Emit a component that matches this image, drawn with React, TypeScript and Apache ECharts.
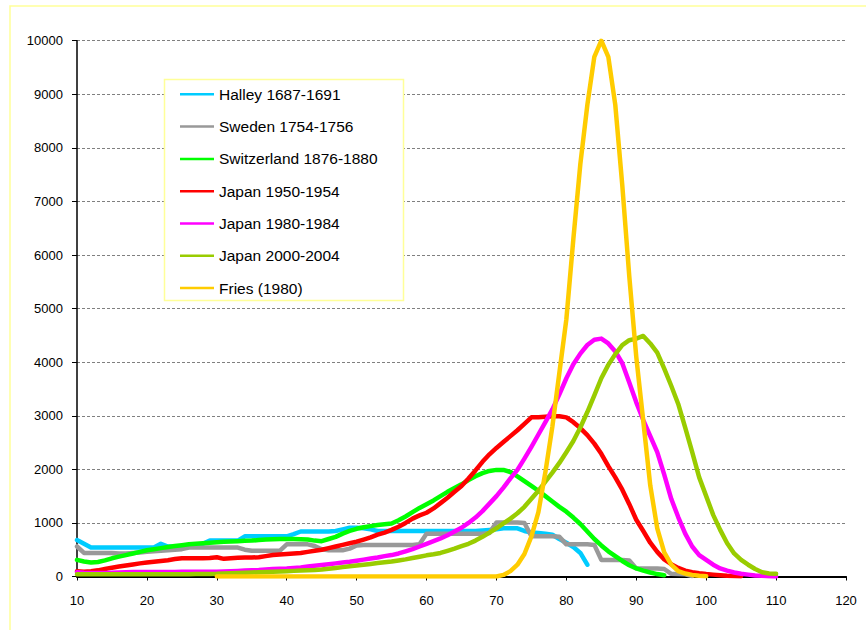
import React, { useEffect, useRef } from "react";
import * as echarts from "echarts";

const X_TICKS_MIN = 10;
const X_TICKS_MAX = 120;
const Y_MAX = 10000;

const SERIES_NAMES = [
  "Halley 1687-1691",
  "Sweden 1754-1756",
  "Switzerland 1876-1880",
  "Japan 1950-1954",
  "Japan 1980-1984",
  "Japan 2000-2004",
  "Fries (1980)",
];
const SERIES_COLORS = ["#00CCFF", "#999999", "#00FF00", "#FF0000", "#FF00FF", "#99CC00", "#FFCC00"];

// first age of each series
const START_AGES = [10, 10, 10, 10, 10, 10, 30];

const halley = [
  680, 610, 540, 540, 540, 540, 540, 540, 540, 540,
  540, 540, 610, 560, 560, 560, 560, 570, 610, 670,
  670, 670, 670, 670, 750, 750, 750, 750, 750, 750,
  750, 790, 840, 840, 840, 840, 840, 850, 880, 910,
  910, 900, 880, 850, 850, 850, 850, 850, 850, 850,
  850, 850, 850, 850, 850, 850, 850, 850, 860, 870,
  880, 900, 900, 900, 850, 820, 810, 800, 780, 700,
  630, 550, 440, 220,
];

const sweden = [
  560, 440, 440, 440, 440, 440, 430, 430, 440, 450,
  460, 470, 480, 490, 500, 510, 540, 540, 540, 540,
  540, 540, 540, 540, 500, 480, 480, 480, 480, 480,
  600, 600, 600, 600, 570, 510, 490, 490, 490, 520,
  580, 590, 590, 590, 590, 590, 590, 590, 590, 600,
  800, 800, 800, 800, 800, 800, 800, 800, 800, 810,
  1010, 1010, 1010, 1010, 1000, 750, 750, 750, 750, 740,
  600, 600, 600, 600, 590, 310, 310, 310, 310, 300,
  150, 150, 150, 150, 140, 50, 45, 40, 10,
];

const switzerland = [
  310, 280, 260, 270, 300, 340, 370, 400, 430, 460,
  490, 510, 530, 550, 570, 585, 600, 610, 620, 630,
  640, 650, 655, 660, 665, 670, 680, 690, 695, 700,
  700, 700, 695, 690, 670, 660, 700, 740, 800, 850,
  890, 920, 940, 960, 975, 990, 1050, 1120, 1200, 1280,
  1350, 1420, 1500, 1580, 1650, 1720, 1800, 1870, 1930, 1970,
  1990, 1990, 1950, 1870, 1780, 1690, 1600, 1500, 1400, 1300,
  1210, 1100, 980, 840, 700, 580, 470, 380, 290, 210,
  150, 110, 75, 45, 25,
];

const japan1950 = [
  100, 90, 100, 115, 140, 165, 185, 205, 225, 245,
  260, 275, 290, 305, 325, 340, 340, 340, 340, 345,
  360, 330, 340, 350, 355, 355, 360, 380, 400, 410,
  420, 430, 440, 460, 480, 500, 530, 560, 590, 620,
  650, 690, 730, 780, 820, 870, 930, 1000, 1080, 1140,
  1190, 1270, 1370, 1470, 1580, 1690, 1830, 1980, 2140, 2280,
  2400, 2510, 2620, 2730, 2850, 2970, 2970, 2980, 2990, 2990,
  2970, 2880, 2770, 2640, 2480, 2290, 2060, 1850, 1620, 1350,
  1060, 850, 630, 460, 320, 230, 160, 110, 80, 60,
  45, 35, 25, 15, 10, 5,
];

const japan1980 = [
  80, 70, 65, 65, 65, 70, 75, 80, 85, 85,
  85, 85, 85, 85, 85, 88, 88, 88, 90, 90,
  90, 95, 100, 105, 110, 115, 120, 130, 140, 145,
  150, 160, 170, 185, 200, 215, 230, 245, 260, 275,
  295, 315, 335, 355, 380, 400, 430, 470, 510, 560,
  610, 660, 710, 770, 840, 910, 1000, 1100, 1220, 1360,
  1500, 1660, 1830, 1990, 2200, 2420, 2650, 2880, 3120, 3400,
  3700, 3960, 4160, 4320, 4420, 4440, 4350, 4200, 3980, 3620,
  3250, 2920, 2620, 2320, 1900, 1450, 1110, 800, 560, 400,
  310, 220, 150, 110, 75, 50, 35, 20, 12, 6,
  2,
];

const japan2000 = [
  40, 40, 40, 40, 40, 40, 40, 40, 40, 40,
  40, 40, 40, 40, 42, 42, 44, 45, 46, 48,
  50, 55, 60, 65, 70, 75, 80, 85, 90, 95,
  100, 105, 110, 115, 120, 130, 145, 160, 175, 190,
  205, 220, 235, 250, 265, 280, 300, 320, 345, 370,
  395, 415, 440, 480, 520, 565, 610, 670, 740, 820,
  900, 990, 1080, 1180, 1300, 1450, 1600, 1770, 1940, 2120,
  2320, 2530, 2780, 3070, 3380, 3700, 3950, 4150, 4320, 4410,
  4440, 4490, 4350, 4180, 3880, 3560, 3220, 2780, 2320, 1850,
  1500, 1150, 870, 620, 430, 310, 220, 140, 80, 55,
  50,
];

const fries = [
  0, 0, 0, 0, 0, 0, 0, 0, 0, 0,
  0, 0, 0, 0, 0, 0, 0, 0, 0, 0,
  0, 0, 0, 0, 0, 0, 0, 0, 0, 0,
  0, 0, 0, 0, 0, 0, 0, 0, 0, 0,
  0, 30, 100, 220, 420, 750, 1200, 1950, 2800, 3800,
  4800, 6300, 7700, 8800, 9700, 10000, 9700, 8800, 7300, 5600,
  4100, 2900, 1700, 900, 450, 220, 100, 55, 30, 15,
  5,
];

const SERIES_VALUES = [halley, sweden, switzerland, japan1950, japan1980, japan2000, fries];

const FONT = "'Liberation Sans', Arial, sans-serif";

export default function App() {
  const ref = useRef<HTMLDivElement>(null);

  useEffect(() => {
    if (!ref.current) return;
    const chart = echarts.init(ref.current, undefined, { renderer: "svg" });

    const series = SERIES_NAMES.map((name, si) => ({
      name,
      type: "line",
      data: SERIES_VALUES[si].map((v, i) => [START_AGES[si] + i, v]),
      symbol: "none",
      showSymbol: false,
      smooth: false,
      lineStyle: { color: SERIES_COLORS[si], width: 4.5, join: "round", cap: "round" },
      itemStyle: { color: SERIES_COLORS[si] },
      emphasis: { disabled: true },
    }));

    chart.setOption({
      animation: false,
      backgroundColor: "#ffffff",
      textStyle: { fontFamily: FONT },
      grid: { left: 77, right: 20, top: 40.7, bottom: 53.5, containLabel: false },
      xAxis: {
        type: "value",
        min: X_TICKS_MIN,
        max: X_TICKS_MAX,
        interval: 10,
        axisLine: { show: true, lineStyle: { color: "#000", width: 2 } },
        axisTick: { show: true, length: 4, lineStyle: { color: "#000", width: 1 } },
        axisLabel: { color: "#000", fontSize: 13, fontFamily: FONT, margin: 17 },
        splitLine: { show: false },
      },
      yAxis: {
        type: "value",
        min: 0,
        max: Y_MAX,
        interval: 1000,
        axisLine: { show: true, lineStyle: { color: "#000", width: 1.5 } },
        axisTick: { show: true, length: 5, lineStyle: { color: "#000", width: 1 } },
        axisLabel: {
          color: "#000",
          fontSize: 13,
          fontFamily: FONT,
          margin: 14,
          formatter: (v: number) => String(v),
        },
        splitLine: { show: true, lineStyle: { color: "#808080", width: 1, type: [3, 2] } },
      },
      legend: {
        orient: "vertical",
        left: 180,
        top: 86.3,
        itemWidth: 34,
        itemHeight: 2.5,
        itemGap: 16.3,
        padding: 0,
        icon: "rect",
        textStyle: { color: "#000", fontSize: 15.5, fontFamily: FONT, lineHeight: 16 },
        data: SERIES_NAMES,
        selectedMode: false,
        z: 5,
      },
      graphic: [
        {
          type: "rect",
          shape: { x: 10, y: 6, width: 900, height: 700 },
          style: { fill: "none", stroke: "#FFFF99", lineWidth: 1.5 },
          silent: true,
          z: 1,
        },
        {
          type: "rect",
          shape: { x: 164.5, y: 79.5, width: 239, height: 221 },
          style: { fill: "#ffffff", stroke: "#FFFF99", lineWidth: 1.5 },
          silent: true,
          z: 3,
        },
      ],
      series,
    });

    return () => {
      chart.dispose();
    };
  }, []);

  return (
    <div
      ref={ref}
      style={{ position: "absolute", left: 0, top: 0, width: 866, height: 630 }}
    />
  );
}
